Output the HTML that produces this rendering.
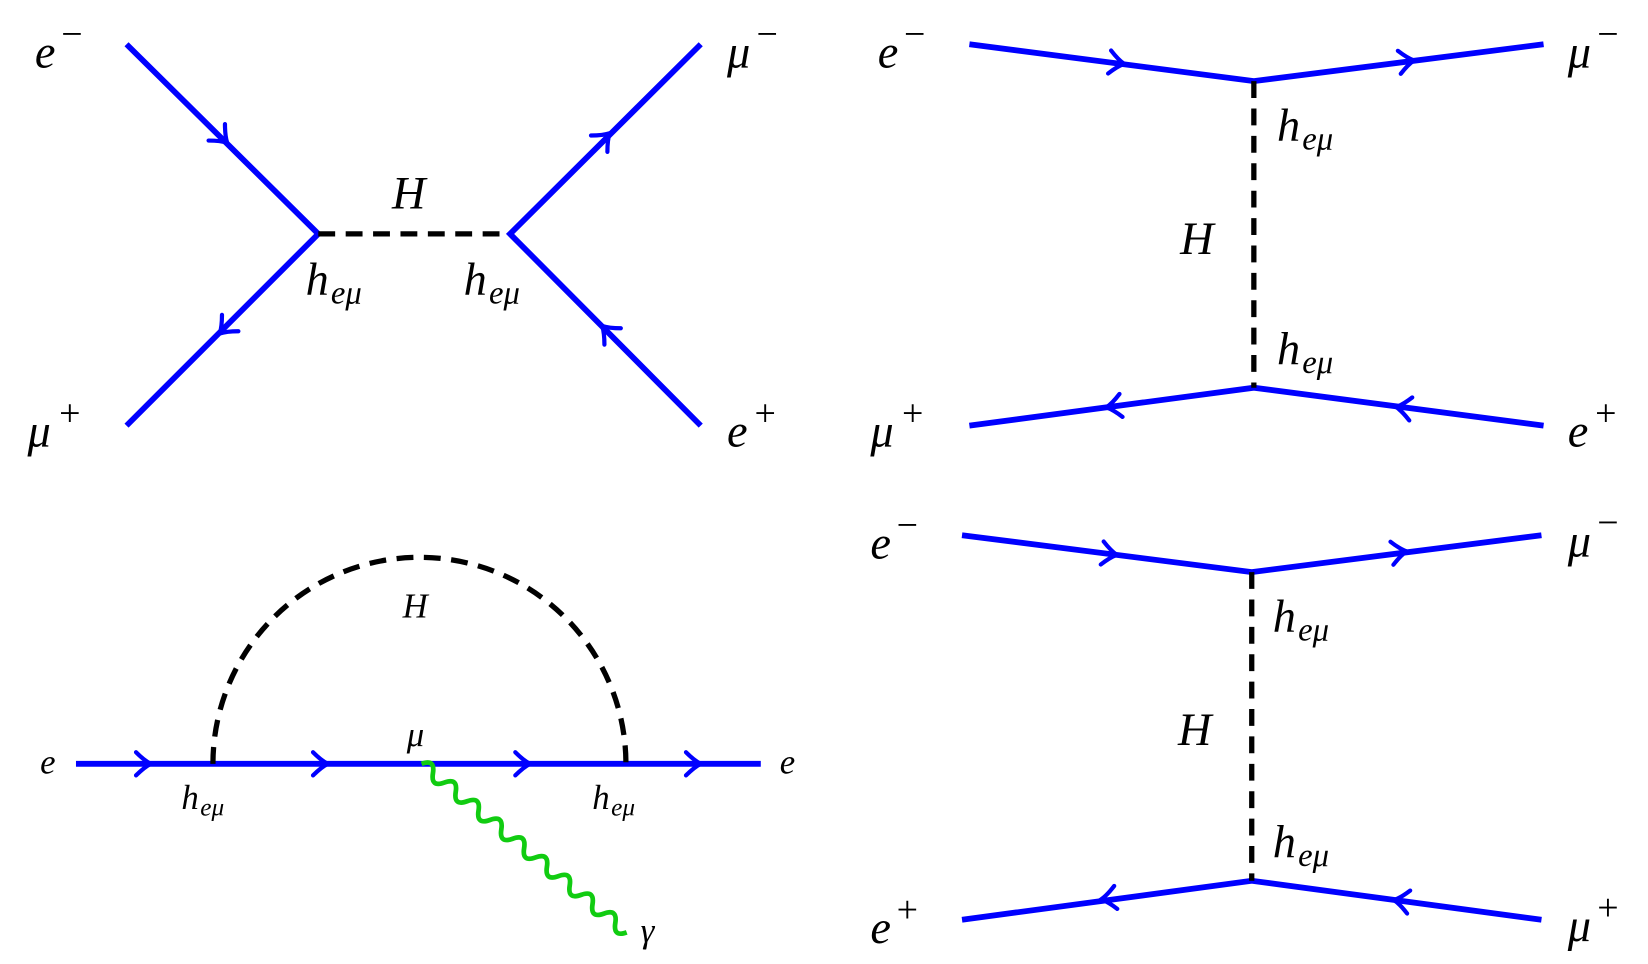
<!DOCTYPE html>
<html><head><meta charset="utf-8"><style>html,body{margin:0;padding:0;background:#fff}svg{display:block}text{font-family:"Liberation Serif","DejaVu Serif",serif;font-style:italic;fill:#000}.s{font-style:normal;font-size:36px}.b{font-size:31px}</style></head>
<body>
<svg width="1648" height="964" viewBox="0 0 1564 915" xmlns="http://www.w3.org/2000/svg">
<defs>
<path id="ar" d="M-9,-11 Q-1,-3 5,0 Q-1,3 -9,11" fill="none" stroke="#00f" stroke-width="4" stroke-linecap="round"/>
</defs>
<g stroke="#00f" stroke-width="5.5" fill="none">
<path d="M120,42 L302,222 L120,404"/>
<path d="M665,42 L484,222 L665,404"/>
<path d="M920,42 L1190,77 L1465,42"/>
<path d="M920,404 L1190,368 L1465,404"/>
<path d="M913,508 L1188,543 L1463,508"/>
<path d="M913,873 L1188,836 L1463,873"/>
<path d="M72,725 L722,725"/>
</g>
<g stroke="#000" stroke-width="5" fill="none" stroke-dasharray="16,10">
<path d="M302,222 L484,222"/>
<path d="M1190,77 L1190,368"/>
<path d="M1188,543 L1188,836"/>
<path d="M202,725 A196,196 0 0 1 594,725"/>
</g>
<use href="#ar" transform="translate(212,132) rotate(45)"/>
<use href="#ar" transform="translate(212,313) rotate(135)"/>
<use href="#ar" transform="translate(575,130) rotate(-45)"/>
<use href="#ar" transform="translate(575,313) rotate(-135)"/>
<use href="#ar" transform="translate(1062,60) rotate(7.4)"/>
<use href="#ar" transform="translate(1337,58) rotate(-7.2)"/>
<use href="#ar" transform="translate(1055,386) rotate(172.4)"/>
<use href="#ar" transform="translate(1330,387) rotate(187.4)"/>
<use href="#ar" transform="translate(1055,526) rotate(7.2)"/>
<use href="#ar" transform="translate(1330,524) rotate(-7.2)"/>
<use href="#ar" transform="translate(1050,853) rotate(172.3)"/>
<use href="#ar" transform="translate(1328,855) rotate(187.6)"/>
<use href="#ar" transform="translate(138,725)"/>
<use href="#ar" transform="translate(306,725)"/>
<use href="#ar" transform="translate(498,725)"/>
<use href="#ar" transform="translate(660,725)"/>
<path transform="translate(400,725) rotate(39.4)" fill="none" stroke="#1c1" stroke-width="4.5" d="M0,0 q7,-12 14,0 t14,0 t14,0 t14,0 t14,0 t14,0 t14,0 t14,0 t14,0 t14,0 t14,0 t14,0 t14,0 t14,0 t14,0 t14,0 t14,0 t14,0"/>
<g font-size="44">
<text x="33" y="64">e</text><text class="s" x="58" y="44">−</text>
<text x="690" y="64">μ</text><text class="s" x="718" y="44">−</text>
<text x="26" y="424">μ</text><text class="s" x="56" y="404">+</text>
<text x="690" y="424">e</text><text class="s" x="716" y="404">+</text>
<text x="372" y="198">H</text>
<text x="290" y="280">h</text><text class="b" x="314" y="288">eμ</text>
<text x="440" y="280">h</text><text class="b" x="464" y="288">eμ</text>
<text x="833" y="64">e</text><text class="s" x="858" y="44">−</text>
<text x="1488" y="64">μ</text><text class="s" x="1516" y="44">−</text>
<text x="1212" y="134">h</text><text class="b" x="1236" y="142">eμ</text>
<text x="1120" y="241">H</text>
<text x="1212" y="346">h</text><text class="b" x="1236" y="354">eμ</text>
<text x="826" y="424">μ</text><text class="s" x="856" y="404">+</text>
<text x="1488" y="424">e</text><text class="s" x="1514" y="404">+</text>
<text x="826" y="530">e</text><text class="s" x="851" y="510">−</text>
<text x="1488" y="528">μ</text><text class="s" x="1516" y="508">−</text>
<text x="1208" y="600">h</text><text class="b" x="1232" y="608">eμ</text>
<text x="1118" y="707">H</text>
<text x="1208" y="814">h</text><text class="b" x="1232" y="822">eμ</text>
<text x="826" y="895">e</text><text class="s" x="851" y="875">+</text>
<text x="1488" y="893">μ</text><text class="s" x="1516" y="873">+</text>
</g>
<g font-size="33">
<text x="382" y="586">H</text>
<text x="386" y="708">μ</text>
<text x="172" y="768">h</text><text x="190" y="774" font-size="24">eμ</text>
<text x="562" y="768">h</text><text x="580" y="774" font-size="24">eμ</text>
<text x="38" y="734">e</text>
<text x="740" y="734">e</text>
<text x="608" y="894">γ</text>
</g>
</svg>
</body></html>
